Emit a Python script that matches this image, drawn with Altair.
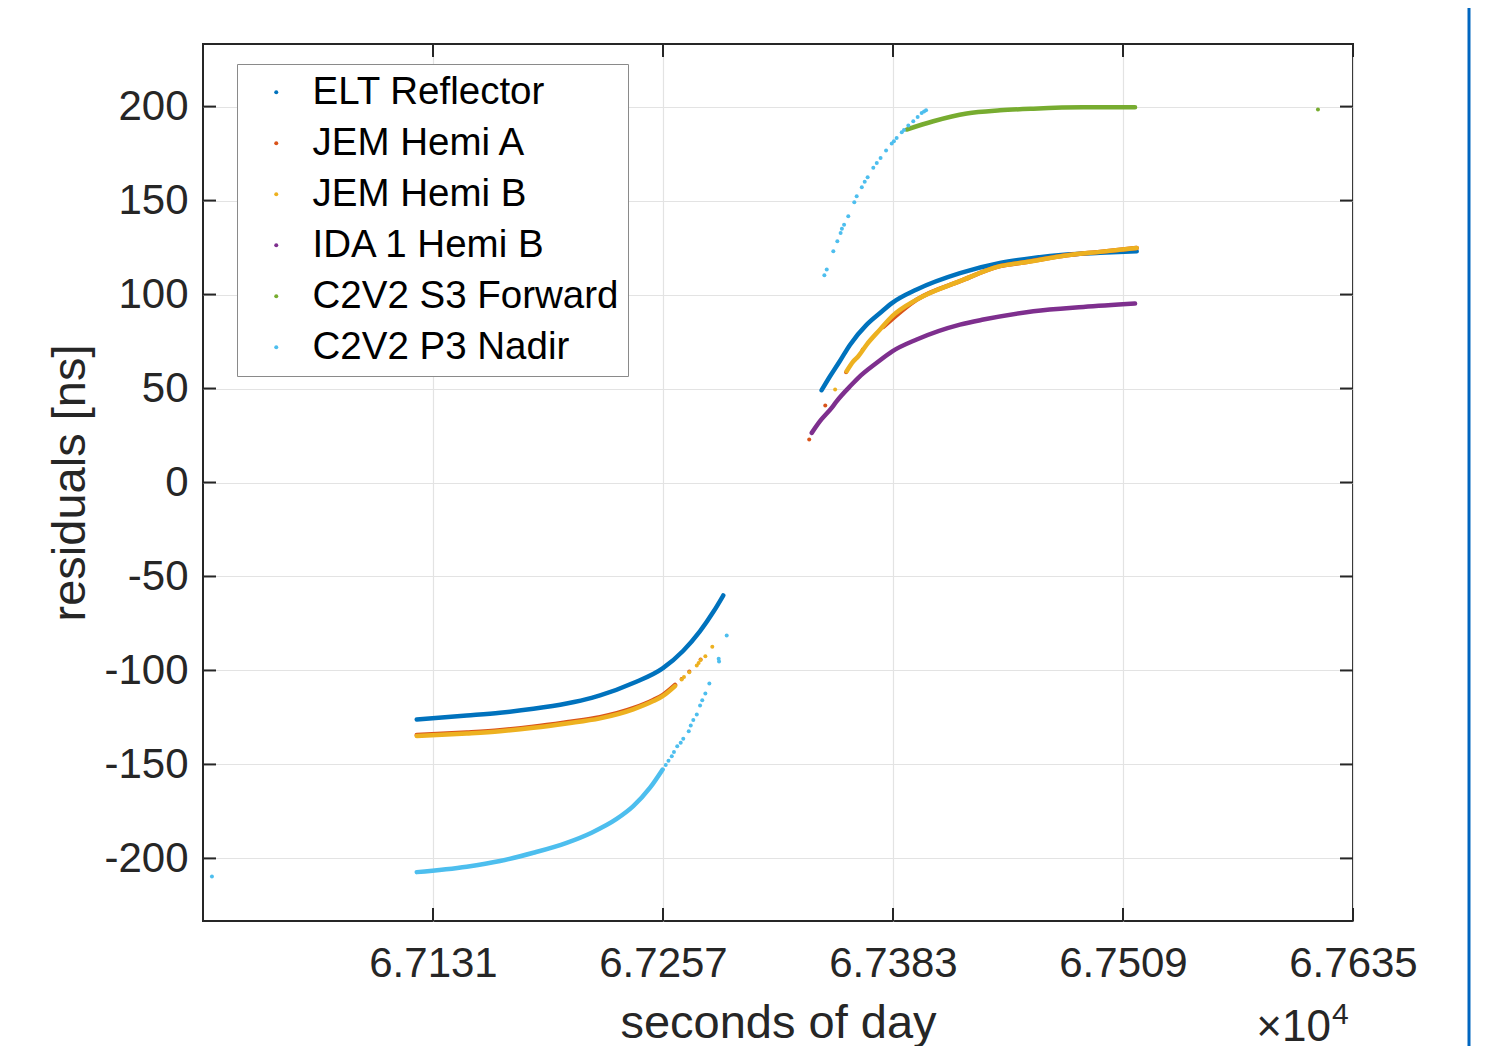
import altair as alt
import pandas as pd

SERIES = ["ELT Reflector", "JEM Hemi A", "JEM Hemi B", "IDA 1 Hemi B", "C2V2 S3 Forward", "C2V2 P3 Nadir"]
COLORS = ["#0072BD", "#D95319", "#EDB120", "#7E2F8E", "#77AC30", "#4DBEEE"]

X_TICKS = [67131, 67257, 67383, 67509, 67635]
Y_TICKS = [-200, -150, -100, -50, 0, 50, 100, 150, 200]
X_DOMAIN = [67005, 67635]
Y_DOMAIN = [-233.3, 233.3]

# ---- dense (curve-like) runs: seconds of day / residuals [ns] ----
elt_p1_t = [67122.1, 67149.5, 67167.7, 67186.0, 67204.2, 67217.9, 67222.5, 67240.7, 67256.8, 67268.1, 67277.3, 67284.6, 67290.0]
elt_p1_r = [-126.1, -124.0, -122.5, -120.4, -117.6, -114.6, -113.3, -106.7, -98.9, -89.5, -79.1, -68.8, -60.1]
elt_p2_t = [67343.9, 67348.5, 67354.0, 67359.4, 67368.6, 67375.9, 67382.6, 67396.0, 67419.7, 67441.6, 67459.9, 67478.2, 67496.4, 67516.5]
elt_p2_r = [49.1, 56.5, 64.8, 73.2, 84.0, 90.2, 95.6, 102.7, 111.4, 116.8, 119.5, 121.3, 122.2, 123.0]

hemiA_p1_t = [67122.1, 67149.5, 67167.7, 67186.0, 67204.2, 67222.5, 67240.7, 67251.7, 67256.8, 67263.6]
hemiA_p1_r = [-134.4, -133.0, -131.8, -130.0, -127.6, -124.9, -120.1, -115.7, -113.1, -107.7]
hemiA_p2_t = [67377.7, 67396.0, 67419.7, 67441.6, 67455.3, 67478.2, 67496.4, 67516.5]
hemiA_p2_r = [82.8, 97.3, 107.1, 115.1, 117.2, 120.9, 122.7, 124.8]

hemiB_p1_t = [67122.1, 67149.5, 67167.7, 67186.0, 67204.2, 67222.5, 67240.7, 67251.7, 67256.8, 67263.6]
hemiB_p1_r = [-134.9, -133.5, -132.3, -130.5, -128.2, -125.5, -120.7, -116.3, -113.7, -108.3]
hemiB_p2_t = [67357.6, 67361.3, 67364.0, 67368.6, 67375.9, 67382.6, 67396.0, 67419.7, 67441.6, 67455.3, 67481.8, 67496.4, 67516.5]
hemiB_p2_r = [59.2, 64.5, 67.2, 73.4, 81.4, 88.5, 97.3, 107.1, 115.1, 117.2, 121.3, 122.7, 124.8]

ida_p2_t = [67338.5, 67343.0, 67349.4, 67352.1, 67360.4, 67364.0, 67374.1, 67382.6, 67396.0, 67419.7, 67432.5, 67459.9, 67487.3, 67515.6]
ida_p2_r = [26.4, 32.6, 39.7, 43.2, 52.1, 55.7, 63.7, 69.8, 76.1, 84.0, 86.7, 91.1, 93.4, 95.2]

s3_p2_t = [67390.5, 67405.1, 67423.4, 67441.6, 67459.9, 67487.3, 67515.6]
s3_p2_r = [187.8, 192.2, 196.3, 198.0, 198.9, 199.6, 199.6]

nadir_p1_t = [67122.1, 67149.5, 67167.7, 67186.0, 67204.2, 67217.9, 67231.6, 67240.7, 67249.9, 67256.8]
nadir_p1_r = [-207.3, -204.4, -201.4, -197.0, -191.7, -186.3, -179.0, -172.2, -162.4, -152.7]

# ---- isolated dots ----
hemiA_dot_t = [67337.1, 67345.9, 67357.3, 67366.4, 67267.2, 67271.4, 67277.6]
hemiA_dot_r = [22.9, 41.0, 58.7, 70.7, -104.5, -100.6, -94.2]

hemiB_dot_t = [67267.2, 67268.5, 67271.4, 67275.5, 67276.5, 67277.6, 67280.2, 67284.0, 67351.3]
hemiB_dot_r = [-104.8, -103.5, -100.9, -97.3, -96.0, -94.5, -92.4, -87.4, 49.5]

s3_dot_t = [67615.8]
s3_dot_r = [198.4]

nadir_dot_t = [67009.9, 67258.5, 67260.0, 67261.8, 67263.0, 67264.8, 67266.7, 67268.1, 67271.1, 67272.2, 67273.6,
               67275.5, 67277.3, 67278.5, 67280.2, 67282.4, 67287.5, 67287.7, 67291.9,
               67345.4, 67346.7, 67350.3, 67352.5, 67354.3, 67355.0, 67356.2, 67358.5, 67361.8,
               67363.1, 67365.9, 67367.5, 67369.1, 67372.2, 67374.1, 67376.2, 67379.2, 67382.3,
               67383.5, 67385.0, 67387.8, 67389.0, 67391.4, 67394.1, 67396.5, 67398.7, 67400.0, 67401.1]
nadir_dot_r = [-209.6, -150.3, -148.0, -145.6, -143.4, -140.3, -138.5, -136.3, -132.3, -129.3, -126.4,
               -123.4, -118.6, -115.8, -112.2, -106.9, -93.8, -95.2, -81.4,
               110.3, 113.3, 123.0, 128.4, 132.8, 135.0, 137.2, 141.7, 149.1,
               152.3, 157.1, 160.0, 162.4, 167.4, 170.0, 172.7, 176.6, 180.3,
               181.5, 183.3, 186.3, 187.5, 189.9, 192.2, 194.5, 196.6, 197.4, 198.0]

RUNS = [
    ("ELT Reflector", "p1", elt_p1_t, elt_p1_r),
    ("ELT Reflector", "p2", elt_p2_t, elt_p2_r),
    ("JEM Hemi A", "p1", hemiA_p1_t, hemiA_p1_r),
    ("JEM Hemi A", "p2", hemiA_p2_t, hemiA_p2_r),
    ("JEM Hemi B", "p1", hemiB_p1_t, hemiB_p1_r),
    ("JEM Hemi B", "p2", hemiB_p2_t, hemiB_p2_r),
    ("IDA 1 Hemi B", "p2", ida_p2_t, ida_p2_r),
    ("C2V2 S3 Forward", "p2", s3_p2_t, s3_p2_r),
    ("C2V2 P3 Nadir", "p1", nadir_p1_t, nadir_p1_r),
]
DOTS = [
    ("JEM Hemi A", hemiA_dot_t, hemiA_dot_r),
    ("JEM Hemi B", hemiB_dot_t, hemiB_dot_r),
    ("C2V2 S3 Forward", s3_dot_t, s3_dot_r),
    ("C2V2 P3 Nadir", nadir_dot_t, nadir_dot_r),
]

rows = []
for s, seg, ts, rs in RUNS:
    for t, r in zip(ts, rs):
        rows.append({"series": s, "seg": seg, "kind": "line", "t": t, "r": r})
for s, ts, rs in DOTS:
    for t, r in zip(ts, rs):
        rows.append({"series": s, "seg": "dot", "kind": "dot", "t": t, "r": r})
df = pd.DataFrame(rows)

W, H = 1150, 877
FONT = "Liberation Sans"
AX = "#262626"

xs = alt.Scale(domain=X_DOMAIN, nice=False, zero=False)
ys = alt.Scale(domain=Y_DOMAIN, nice=False, zero=False)
x_enc = alt.X("t:Q", scale=xs, axis=alt.Axis(
    values=X_TICKS, labelExpr="format(datum.value / 10000, '.4f')",
    title="seconds of day", labelPadding=22, titlePadding=16,
    labelFlush=False))
y_enc = alt.Y("r:Q", scale=ys, axis=alt.Axis(
    values=Y_TICKS, labelExpr="'' + datum.value",
    title="residuals [ns]", labelPadding=15, titlePadding=9))

color_enc = alt.Color("series:N", scale=alt.Scale(domain=SERIES, range=COLORS),
                      legend=alt.Legend(
                          title=None, orient="none", legendX=34, legendY=20,
                          symbolType="circle", symbolSize=16, symbolOffset=11,
                          labelOffset=17, labelFontSize=38.5, labelFont=FONT,
                          labelColor="#000000", rowPadding=12, padding=9,
                          strokeColor="#8a8a8a", fillColor="#ffffff",
                          symbolStrokeWidth=0, labelLimit=600))

base = alt.Chart(df)
layers = []
for s, c in zip(SERIES, COLORS):
    ln = base.transform_filter(
        (alt.datum.series == s) & (alt.datum.kind == "line")
    ).mark_line(strokeWidth=4.5, interpolate="monotone", color=c, strokeCap="round").encode(
        x=x_enc, y=y_enc, detail="seg:N")
    pt = base.transform_filter(
        (alt.datum.series == s) & (alt.datum.kind == "dot")
    ).mark_circle(size=16, opacity=1).encode(x=x_enc, y=y_enc, color=color_enc)
    layers += [ln, pt]

ydf = pd.DataFrame({"r": Y_TICKS})
xdf = pd.DataFrame({"t": X_TICKS})
tick_l = alt.Chart(ydf).mark_rule(color=AX, strokeWidth=2).encode(
    y=y_enc, x=alt.value(0), x2=alt.value(13))
tick_r = alt.Chart(ydf).mark_rule(color=AX, strokeWidth=2).encode(
    y=y_enc, x=alt.value(W - 13), x2=alt.value(W))
tick_b = alt.Chart(xdf).mark_rule(color=AX, strokeWidth=2).encode(
    x=x_enc, y=alt.value(H - 13), y2=alt.value(H))
tick_t = alt.Chart(xdf).mark_rule(color=AX, strokeWidth=2).encode(
    x=x_enc, y=alt.value(0), y2=alt.value(13))

one = pd.DataFrame({"k": [0]})
exp_main = alt.Chart(one).mark_text(font=FONT, fontSize=44, color=AX, align="right",
                                    baseline="alphabetic").encode(
    x=alt.value(W - 22), y=alt.value(H + 120), text=alt.value("×10"))
exp_sup = alt.Chart(one).mark_text(font=FONT, fontSize=30, color=AX, align="left",
                                   baseline="alphabetic").encode(
    x=alt.value(W - 21), y=alt.value(H + 103), text=alt.value("4"))
side_bar = alt.Chart(one).mark_rule(color="#0066c0", strokeWidth=3).encode(
    x=alt.value(1266), y=alt.value(-40), y2=alt.value(H + 130))

chart = alt.layer(*layers, tick_l, tick_r, tick_b, tick_t, exp_main, exp_sup, side_bar).properties(
    width=W, height=H,
    autosize=alt.AutoSizeParams(type="none"),
    padding={"left": 195, "top": 36, "right": 118, "bottom": 125},
    background="white",
).configure_view(
    stroke=AX, strokeWidth=2
).configure_axis(
    ticks=False, tickSize=0, domain=False, grid=True, gridColor="#e3e3e3", gridWidth=1.2,
    labelFont=FONT, labelFontSize=42, labelColor=AX,
    titleFont=FONT, titleFontSize=47, titleColor=AX, titleFontWeight="normal",
)

chart.save("out.html", embed_options={"renderer": "svg", "actions": False})
